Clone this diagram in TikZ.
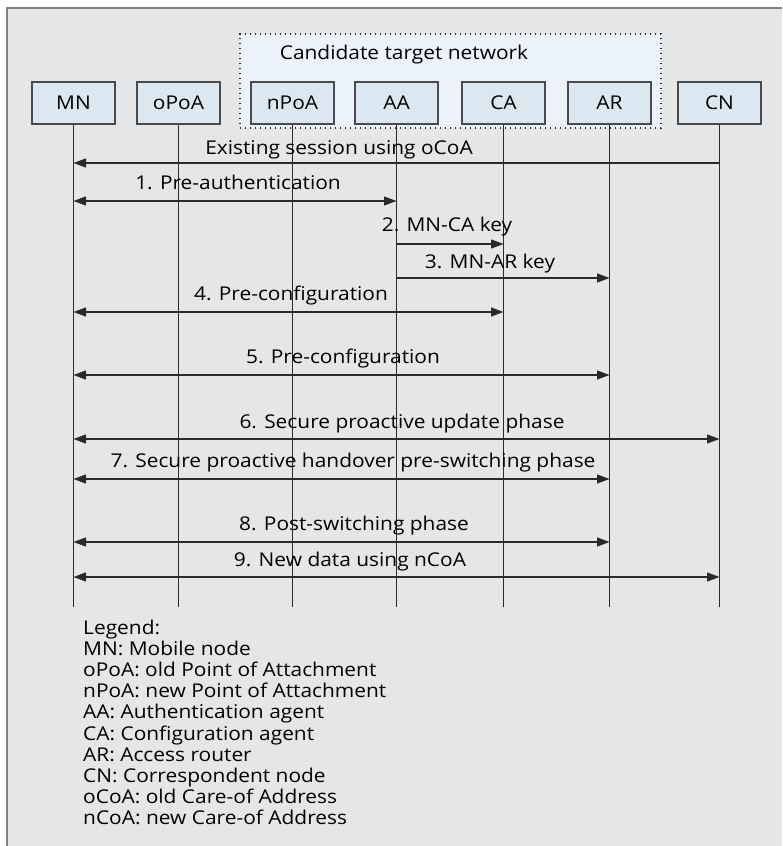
\documentclass[tikz,border=0pt]{standalone}
\usepackage{fontspec}
\setmainfont{Open Sans}[FakeStretch=1.1]
\usetikzlibrary{arrows.meta}
\definecolor{panel}{HTML}{E5E6E8}
\definecolor{framegray}{HTML}{808080}
\definecolor{boxfill}{HTML}{DCE8F1}
\definecolor{netfill}{HTML}{EBF2F9}
\definecolor{ink}{HTML}{2A2A2A}
\begin{document}
\begin{tikzpicture}[x=1pt,y=-1pt,
  entity/.style={draw=ink!85,line width=1.2pt,fill=boxfill,minimum width=83pt,minimum height=42pt,inner sep=0pt,font=\fontsize{19}{19}\selectfont},
  life/.style={draw=ink,line width=1.1pt},
  msg/.style={draw=ink,line width=1.2pt,-{Triangle[length=12.5pt,width=9pt]}},
  bimsg/.style={draw=ink,line width=1.2pt,{Triangle[length=12.5pt,width=9pt]}-{Triangle[length=12.5pt,width=9pt]}},
  lbl/.style={inner sep=0pt,anchor=base,font=\fontsize{19}{19}\selectfont,text=black},
  legendtext/.style={inner sep=0pt,anchor=base west,font=\fontsize{19}{19}\selectfont}]
\useasboundingbox (0,0) rectangle (782,846);
% panel background and frame
\fill[white] (0,0) rectangle (782,846);
\fill[panel] (7,8) rectangle (782,846);
\draw[framegray,line width=2pt] (7,846) -- (7,8) -- (782,8);
% candidate target network
\node[draw=ink,dash pattern=on 1.3pt off 3.7pt,line width=1.3pt,fill=netfill,minimum width=421pt,minimum height=94pt,inner sep=0pt] (net) at (450.5,81) {};
\node[lbl] (nettitle) at (404,59) {Candidate target network};
% entities
\node[entity] (MN) at (73.5,103) {MN};
\node[entity] (oPoA) at (178.5,103) {oPoA};
\node[entity] (nPoA) at (292.5,103) {nPoA};
\node[entity] (AA) at (396.5,103) {AA};
\node[entity] (CA) at (503.5,103) {CA};
\node[entity] (AR) at (609.5,103) {AR};
\node[entity] (CN) at (719.5,103) {CN};
% lifelines
\foreach \n in {MN,oPoA,nPoA,AA,CA,AR,CN}{
  \coordinate (\n-end) at (\n.south |- 0,607);
  \draw[life] (\n.south) -- (\n-end);
}
% message rows
\foreach \n/\y in {s0/163,s1/201,s2/244,s3/278,s4/312,s5/375,s6/439,s7/479,s8/542,s9/577}{
  \foreach \e in {MN,AA,CA,AR,CN}{
    \coordinate (\e-\n) at (\e.south |- 0,\y);
  }
}
\draw[msg] (CN-s0) -- (MN-s0);
\node[lbl] (t0) at (339,154) {Existing session using oCoA};
\draw[bimsg] (MN-s1) -- (AA-s1);
\node[lbl] (t1) at (238,189) {1. Pre-authentication};
\draw[msg] (AA-s2) -- (CA-s2);
\node[lbl] (t2) at (447,231) {2. MN-CA key};
\draw[msg] (AA-s3) -- (AR-s3);
\node[lbl] (t3) at (490,268) {3. MN-AR key};
\draw[bimsg] (MN-s4) -- (CA-s4);
\node[lbl] (t4) at (291,300) {4. Pre-configuration};
\draw[bimsg] (MN-s5) -- (AR-s5);
\node[lbl] (t5) at (343,363) {5. Pre-configuration};
\draw[bimsg] (MN-s6) -- (CN-s6);
\node[lbl] (t6) at (402,428) {6. Secure proactive update phase};
\draw[bimsg] (MN-s7) -- (AR-s7);
\node[lbl] (t7) at (353,467) {7. Secure proactive handover pre-switching phase};
\draw[bimsg] (MN-s8) -- (AR-s8);
\node[lbl] (t8) at (354,530) {8. Post-switching phase};
\draw[bimsg] (MN-s9) -- (CN-s9);
\node[lbl] (t9) at (350,566) {9. New data using nCoA};
% legend
\foreach \t [count=\i from 0] in {Legend:,MN: Mobile node,oPoA: old Point of Attachment,nPoA: new Point of Attachment,AA: Authentication agent,CA: Configuration agent,AR: Access router,CN: Correspondent node,oCoA: old Care-of Address,nCoA: new Care-of Address}{
  \node[legendtext] (leg\i) at (83,634.5+21.1*\i) {\t};
}
\end{tikzpicture}
\end{document}
